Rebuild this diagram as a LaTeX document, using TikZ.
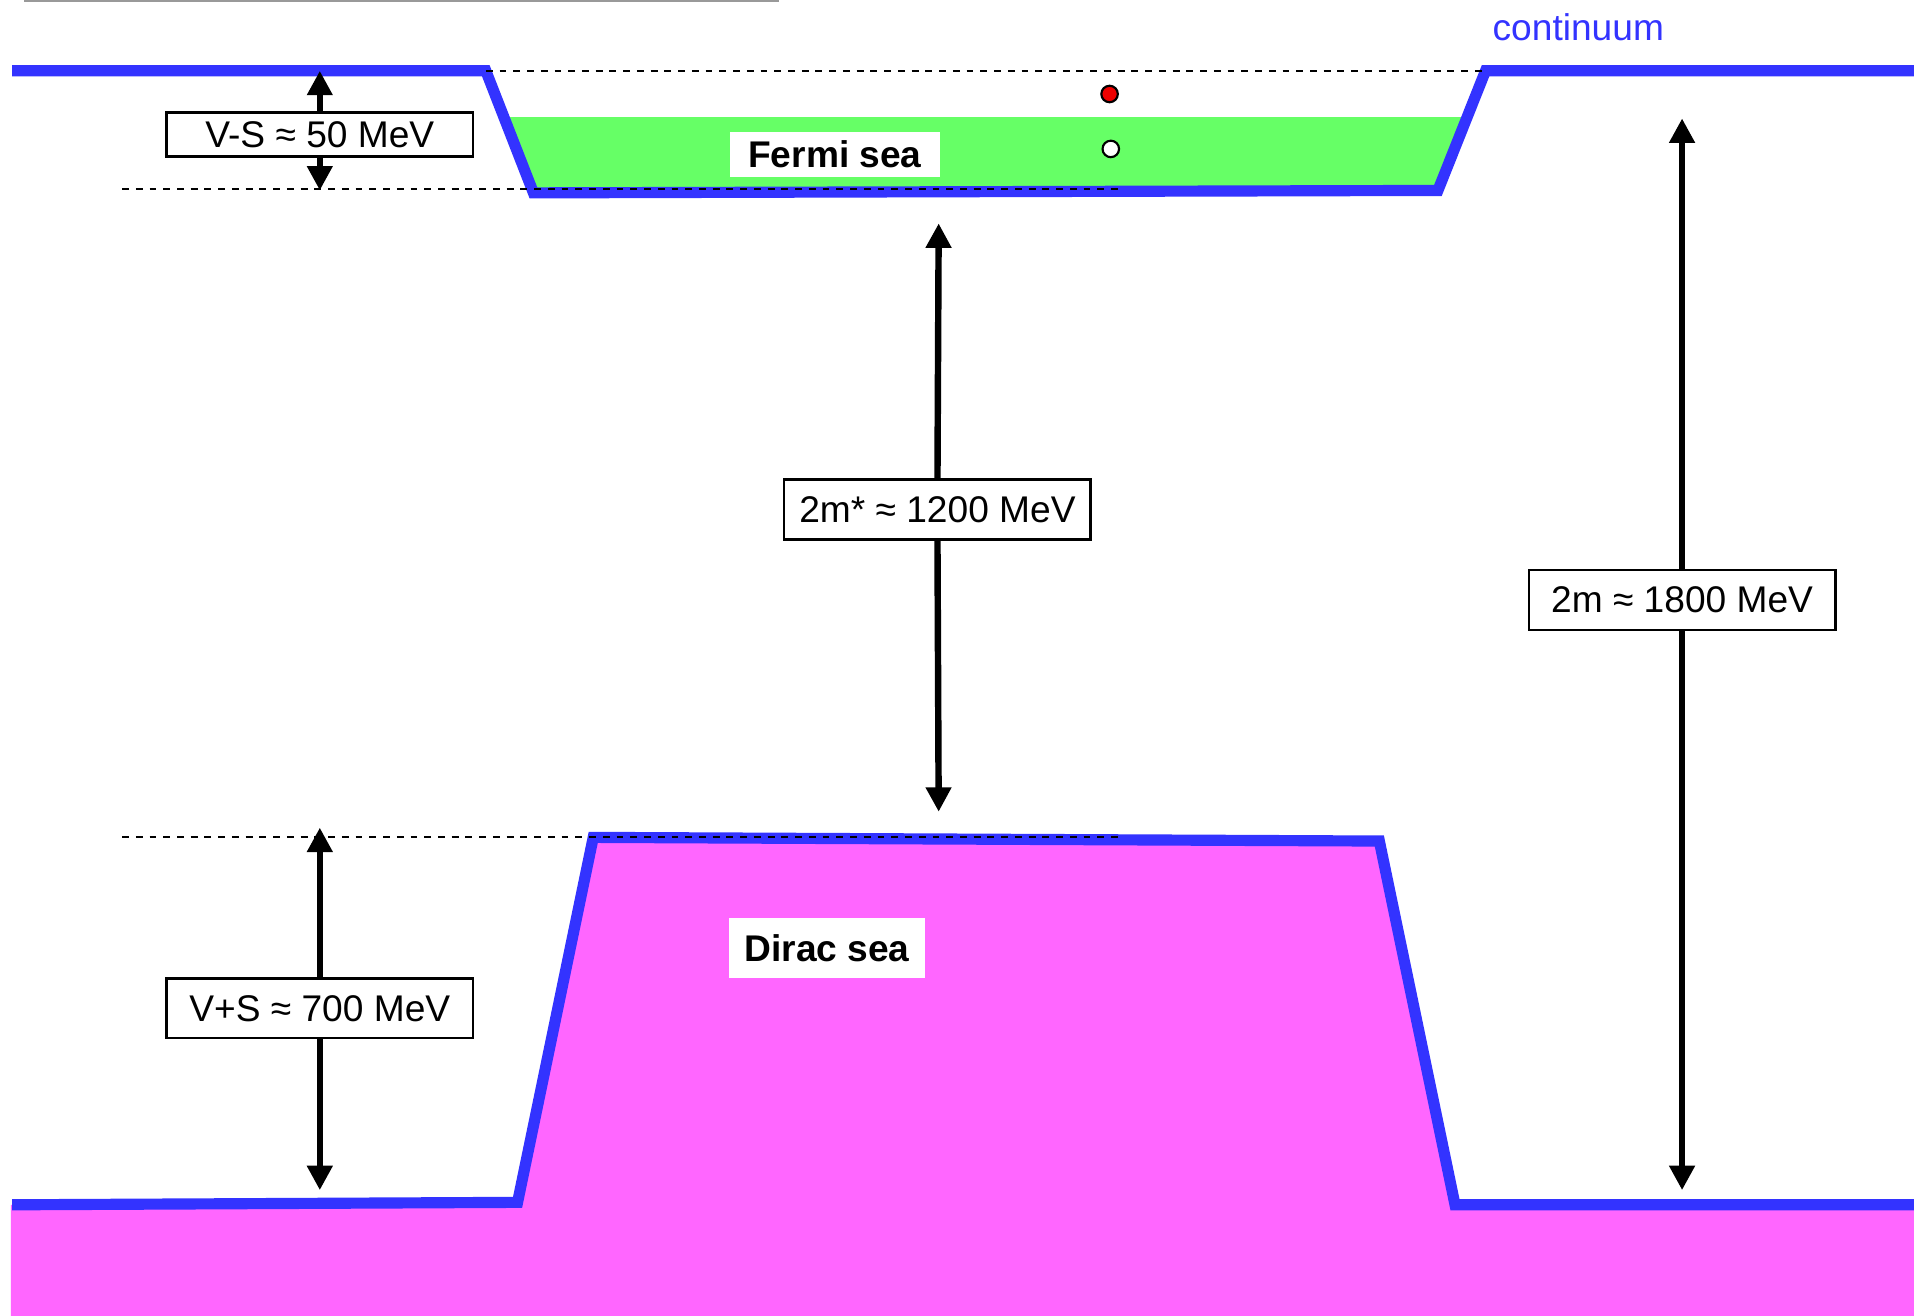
\documentclass[tikz,border=0pt]{standalone}
\usepackage{fontspec}
\setmainfont{Liberation Sans}
\usetikzlibrary{arrows.meta}
\definecolor{wellblue}{HTML}{3333FF}
\definecolor{fermigreen}{HTML}{66FF66}
\definecolor{diracpink}{HTML}{FF66FF}
\definecolor{dotred}{HTML}{EE0000}
\tikzset{
  level/.style={wellblue,line width=2.6pt,line join=miter},
  guide/.style={black,line width=0.5pt,dash pattern=on 1.6pt off 1.6pt},
  gaparrow/.style={line width=1.5pt,-{Triangle[length=0.2cm,width=0.2cm]}},
  labelfont/.style={font=\fontsize{8.65}{10}\selectfont},
  valuebox/.style={draw,fill=white,line width=0.6pt,minimum width=2.51cm,
    inner sep=0pt,labelfont},
  seabox/.style={fill=white,inner sep=0pt,font=\fontsize{8.65}{10}\selectfont\bfseries},
  particle/.style={circle,draw=black,line width=0.5pt,minimum size=0.135cm,inner sep=0pt}
}
\begin{document}
\begin{tikzpicture}[x=0.01cm,y=-0.01cm]
\useasboundingbox (0,0) rectangle (1568,1078);

% thin rule along the top edge
\draw[gray!80,line width=0.4pt] (20,0.8) -- (638,0.8);

% Fermi sea filling the potential well
\fill[fermigreen] (413,96) -- (1202,96) -- (1178,157) -- (437,158) -- cycle;

% Dirac sea below the lower continuum
\fill[diracpink] (9,987) -- (424,985) -- (486,686) -- (1130,689) -- (1192,987)
  -- (1568,987) -- (1568,1078) -- (9,1078) -- cycle;

% upper continuum edge with the nuclear potential well
\draw[level] (10,58) -- (398,58) -- (437,158) -- (1178,156) -- (1217,58) -- (1568,58);

% lower continuum edge
\draw[level] (10,987) -- (424,985) -- (486,686) -- (1130,689) -- (1192,987) -- (1568,987);

% reference levels
\draw[guide] (398,58) -- (1217,58);
\draw[guide] (100,155) -- (920,155);
\draw[guide] (100,686) -- (920,686);

% particle above and hole inside the Fermi sea
\node[particle,fill=dotred] (particle) at (909,77) {};
\node[particle,fill=white] (hole) at (910,122) {};

% sea labels
\node[seabox,minimum width=1.72cm,minimum height=0.37cm] (fermi) at (684,126.5) {Fermi sea};
\node[seabox,minimum width=1.61cm,minimum height=0.49cm] (dirac) at (677.5,776.5) {Dirac sea};
\node[labelfont,text=wellblue] (cont) at (1293,22) {continuum};

% energy gaps
\node[valuebox,minimum height=0.36cm] (vs) at (262,110) {V-S ≈ 50 MeV};
\node[valuebox,minimum height=0.49cm] (vps) at (262,826) {V+S ≈ 700 MeV};
\node[valuebox,minimum height=0.49cm] (meff) at (768,417.5) {2m* ≈ 1200 MeV};
\node[valuebox,minimum height=0.49cm] (mfree) at (1378,491.5) {2m ≈ 1800 MeV};

\coordinate (vsTop) at (262,58);
\coordinate (vsBot) at (262,156);
\coordinate (vpsTop) at (262,678);
\coordinate (vpsBot) at (262,975);
\coordinate (meffTop) at (769,183);
\coordinate (meffBot) at (769,665);
\coordinate (mfreeTop) at (1378,97);
\coordinate (mfreeBot) at (1378,975);

\draw[gaparrow] (vs.north) -- (vsTop);
\draw[gaparrow] (vs.south) -- (vsBot);
\draw[gaparrow] (vps.north) -- (vpsTop);
\draw[gaparrow] (vps.south) -- (vpsBot);
\draw[gaparrow] (meff.north) -- (meffTop);
\draw[gaparrow] (meff.south) -- (meffBot);
\draw[gaparrow] (mfree.north) -- (mfreeTop);
\draw[gaparrow] (mfree.south) -- (mfreeBot);
\end{tikzpicture}
\end{document}
